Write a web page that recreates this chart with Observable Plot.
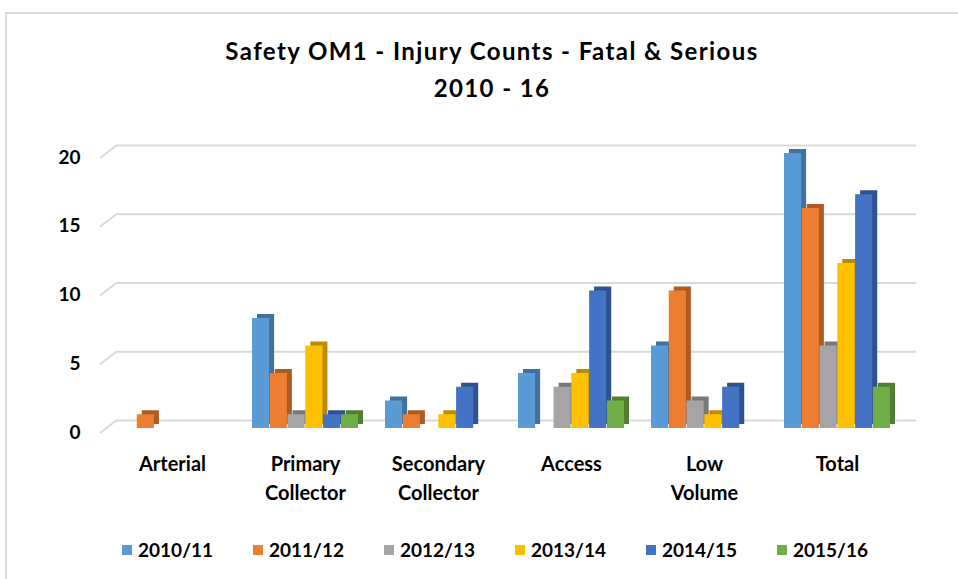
<!DOCTYPE html>
<html>
<head>
<meta charset="utf-8">
<script src="https://cdn.jsdelivr.net/npm/d3@7"></script>
<script src="https://cdn.jsdelivr.net/npm/@observablehq/plot@0.6"></script>
<style>
  body { margin: 0; background: #fff; width: 958px; height: 579px; overflow: hidden; position: relative; font-family: Lato, "Open Sans", sans-serif; }
  #frame { position: absolute; left: 5px; top: 12px; width: 1000px; height: 620px; border: 2px solid #d9d9d9; box-sizing: border-box; }
  #title { position: absolute; left: 0; width: 984px; top: 32px; text-align: center; font-size: 24px; font-weight: bold; letter-spacing: 1.4px; line-height: 37px; color: #000; }
  #chart { position: absolute; left: 0; top: 120px; }
  #legend { position: absolute; left: 0; width: 990px; top: 537px; display: flex; justify-content: center; gap: 40px; font-size: 19px; font-weight: bold; color: #000; line-height: 26px; }
  #legend .item { display: flex; align-items: center; }
  #legend .sw { width: 10px; height: 10px; margin-right: 6px; display: inline-block; }
</style>
</head>
<body>
<div id="frame"></div>
<div id="title">Safety OM1 - Injury Counts - Fatal &amp; Serious<br>2010 - 16</div>
<div id="chart"></div>
<div id="legend"></div>
<script>
const categories = ["Arterial", "Primary Collector", "Secondary Collector", "Access", "Low Volume", "Total"];
const categoryLabels = ["Arterial", "Primary\nCollector", "Secondary\nCollector", "Access", "Low\nVolume", "Total"];
const series = ["2010/11", "2011/12", "2012/13", "2013/14", "2014/15", "2015/16"];
const v2010_11 = [0, 8, 2, 4, 6, 20];
const v2011_12 = [1, 4, 1, 0, 10, 16];
const v2012_13 = [0, 1, 0, 3, 2, 6];
const v2013_14 = [0, 6, 1, 4, 1, 12];
const v2014_15 = [0, 1, 3, 10, 3, 17];
const v2015_16 = [0, 1, 0, 2, 0, 3];
const seriesValues = [v2010_11, v2011_12, v2012_13, v2013_14, v2014_15, v2015_16];
const colors = ["#5B9BD5", "#ED7D31", "#A5A5A5", "#FFC000", "#4472C4", "#70AD47"];
const sideColors = ["#41719C", "#AE5A21", "#787878", "#BC8C00", "#2F528F", "#507E32"];
const yTicks = [0, 5, 10, 15, 20];

const labelOf = new Map(categories.map((c, i) => [c, categoryLabels[i]]));

const bandStart = 105, bandEnd = 905, padInner = 0.2, padOuter = 0.1;
const step = (bandEnd - bandStart) / (categories.length - padInner + 2 * padOuter);
const bandwidth = step * (1 - padInner);
const sub = bandwidth / series.length;

const marks = [];
marks.push(Plot.ruleY(yTicks, {dy: -8, stroke: "#d9d9d9", strokeWidth: 2}));
marks.push(function slants(index, scales, values, dims) {
  const g = d3.create("svg:g");
  if (scales && typeof scales.y === "function") {
    for (const t of yTicks) {
      const y = scales.y(t);
      g.append("line")
        .attr("x1", dims.marginLeft - 17).attr("y1", y + 5)
        .attr("x2", dims.marginLeft).attr("y2", y - 8)
        .attr("stroke", "#d9d9d9").attr("stroke-width", 2);
    }
  }
  return g.node();
});

series.forEach((s, i) => {
  const rows = categories.map((c, j) => ({category: c, value: seriesValues[i][j]})).filter(d => d.value > 0);
  const inset = {insetLeft: i * sub, insetRight: (series.length - 1 - i) * sub};
  marks.push(Plot.barY(rows, {x: "category", y: "value", fill: sideColors[i], dx: 5, dy: -4, ...inset}));
  marks.push(Plot.barY(rows, {x: "category", y: "value", fill: colors[i], ...inset}));
});

marks.push(Plot.axisY({ticks: yTicks, tickSize: 0, tickPadding: 37, dy: 4, fontSize: 19, fontWeight: "bold"}));
marks.push(Plot.axisX({tickSize: 0, tickPadding: 22, tickFormat: d => labelOf.get(d), lineHeight: 1.45, fontSize: 20, fontWeight: "bold", letterSpacing: 1}));

const plot = Plot.plot({
  width: 958,
  height: 400,
  marginTop: 33,
  marginBottom: 92,
  marginLeft: 117,
  marginRight: 42,
  style: {fontFamily: "Lato, 'Open Sans', sans-serif", fontSize: "19px", fontWeight: "bold", color: "#000", background: "transparent", overflow: "visible"},
  x: {type: "band", domain: categories, range: [bandStart, bandEnd], paddingInner: padInner, paddingOuter: padOuter, label: null, axis: null},
  y: {domain: [0, 20], label: null, axis: null},
  marks
});
document.getElementById("chart").appendChild(plot);

const legend = document.getElementById("legend");
series.forEach((s, i) => {
  const item = document.createElement("div");
  item.className = "item";
  const sw = document.createElement("span");
  sw.className = "sw";
  sw.style.background = colors[i];
  item.appendChild(sw);
  item.appendChild(document.createTextNode(s));
  legend.appendChild(item);
});
</script>
</body>
</html>
